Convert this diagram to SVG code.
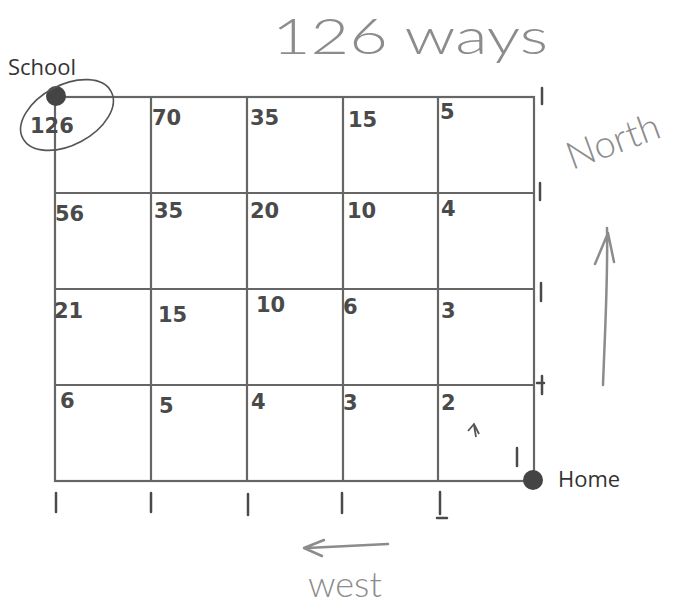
<svg xmlns="http://www.w3.org/2000/svg" width="682" height="606" viewBox="0 0 682 606">
<style>
.grid{stroke:#666;stroke-width:2.2;fill:none}
.num{font-family:"DejaVu Sans",sans-serif;font-size:21px;font-weight:bold;fill:#4a4a4a}
.one{stroke:#4a4a4a;stroke-width:2.5;stroke-linecap:round}
.lbl{font-family:"Open Sans","Liberation Sans",sans-serif;font-size:22px;fill:#333}
.hand{font-family:Lato,"DejaVu Sans",sans-serif;font-weight:300;fill:#8c8c8c}
.pen{stroke:#8c8c8c;stroke-width:2.5;fill:none;stroke-linecap:round;stroke-linejoin:round}
</style>
<rect width="682" height="606" fill="#fff"/>
<g id="grid">
<rect class="grid" x="55" y="97" width="479" height="384"/>
<path class="grid" d="M151 97V481M247 97V481M343 97V481M438 97V481M55 193H534M55 289H534M55 385H534"/>
</g>
<g id="title"><text class="hand" x="272" y="54" font-size="50" font-weight="400" textLength="276" lengthAdjust="spacingAndGlyphs">126 ways</text></g>
<g id="school">
<circle cx="56" cy="96" r="10" fill="#444"/>
<text class="lbl" x="8" y="75">School</text>
</g>
<g id="home">
<circle cx="533" cy="480" r="10" fill="#444"/>
<text class="lbl" x="558" y="487">Home</text>
</g>
<g id="cells">
<ellipse cx="67" cy="115" rx="50" ry="30" transform="rotate(-28 67 115)" fill="none" stroke="#555" stroke-width="1.6"/>
<text class="num" x="30" y="133" font-size="29">126</text>
<text class="num" x="152" y="125">70</text>
<text class="num" x="250" y="125">35</text>
<text class="num" x="348" y="127">15</text>
<text class="num" x="440" y="119" font-size="17">5</text>
<text class="num" x="55" y="221">56</text>
<text class="num" x="154" y="218">35</text>
<text class="num" x="250" y="218">20</text>
<text class="num" x="347" y="218">10</text>
<text class="num" x="441" y="216">4</text>
<text class="num" x="54" y="318">21</text>
<text class="num" x="158" y="322">15</text>
<text class="num" x="256" y="312" font-size="16">10</text>
<text class="num" x="343" y="314">6</text>
<text class="num" x="441" y="318">3</text>
<text class="num" x="60" y="408">6</text>
<text class="num" x="159" y="413">5</text>
<text class="num" x="251" y="409">4</text>
<text class="num" x="343" y="410">3</text>
<text class="num" x="441" y="410">2</text>
</g>
<g id="ones">
<path class="one" d="M542 88V104M540 183V200M541 283V301M542 376V394M537 383H544M517 448V466M56 493V512M151 493V512M248 494V515M342 493V513M440 492V514M437 518H447"/>
</g>
<g id="connectors">
<path class="pen" d="M603 385C605 330 608 280 607 228M595 264L608 233L614 262"/>
<path class="pen" d="M388 544L307 548M324 540L304 548L322 556"/>
<path d="M476 437L474 425M468 431L474 424L479 434" stroke="#555" stroke-width="1.8" fill="none"/>
</g>
<g id="north"><text class="hand" x="572" y="170" font-size="38" transform="rotate(-20 572 170)">North</text></g>
<g id="west"><text class="hand" x="308" y="597" font-size="36">west</text></g>
</svg>
